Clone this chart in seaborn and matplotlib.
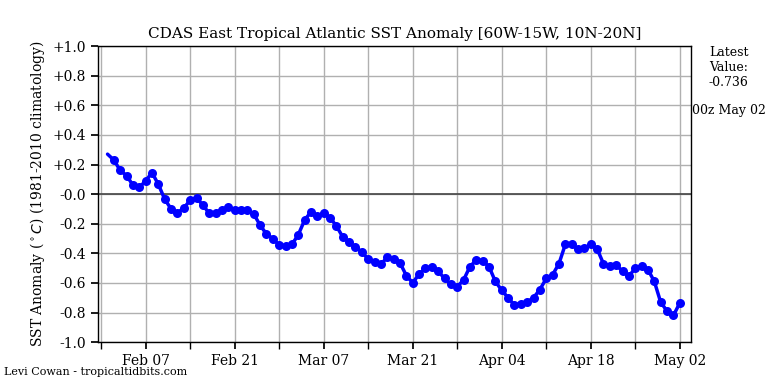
import pandas as pd
import matplotlib
matplotlib.use('Agg')
import matplotlib.pyplot as plt
import seaborn as sns

# Daily SST anomaly values, Feb 01 - May 02
start_date = '2023-02-01'
anomaly = [
    0.27, 0.23, 0.16, 0.125, 0.06, 0.045, 0.09, 0.145, 0.065, -0.035,
    -0.10, -0.125, -0.095, -0.04, -0.025, -0.075, -0.13, -0.125, -0.11, -0.09,
    -0.11, -0.105, -0.11, -0.135, -0.21, -0.27, -0.30, -0.345, -0.35, -0.34,
    -0.275, -0.175, -0.12, -0.15, -0.125, -0.16, -0.215, -0.29, -0.325, -0.36,
    -0.39, -0.44, -0.46, -0.475, -0.425, -0.44, -0.465, -0.55, -0.60, -0.54,
    -0.50, -0.495, -0.52, -0.57, -0.61, -0.625, -0.58, -0.49, -0.445, -0.45,
    -0.49, -0.59, -0.65, -0.70, -0.75, -0.74, -0.73, -0.70, -0.645, -0.57,
    -0.545, -0.47, -0.34, -0.34, -0.37, -0.365, -0.34, -0.37, -0.47, -0.485,
    -0.48, -0.52, -0.555, -0.50, -0.485, -0.51, -0.59, -0.73, -0.79, -0.82,
    -0.736,
]
y_ticks = [1.0, 0.8, 0.6, 0.4, 0.2, 0.0, -0.2, -0.4, -0.6, -0.8, -1.0]
y_labels = ['+1.0', '+0.8', '+0.6', '+0.4', '+0.2', '-0.0',
            '-0.2', '-0.4', '-0.6', '-0.8', '-1.0']
latest_value = -0.736

df = pd.DataFrame({'date': pd.date_range(start_date, periods=len(anomaly), freq='D'),
                   'anom': anomaly})

sns.set_theme(style='ticks')
plt.rcParams['font.family'] = ['DejaVu Serif']
plt.rcParams['text.color'] = 'black'
plt.rcParams['axes.labelcolor'] = 'black'
plt.rcParams['xtick.color'] = 'black'
plt.rcParams['ytick.color'] = 'black'

fig = plt.figure(figsize=(7.68, 3.84), dpi=100)
ax = fig.add_axes([0.1276, 0.109, 0.7724, 0.771])

# grid first so the data sits on top
major = pd.date_range('2023-02-07', '2023-05-02', freq='14D')
minor = pd.date_range('2023-01-31', '2023-05-02', freq='7D')
ax.set_xticks(major)
ax.set_xticks(minor, minor=True)
ax.set_xticklabels([d.strftime('%b %d') for d in major], fontsize=10)
ax.grid(True, which='both', axis='x', color='#b0b0b0', linewidth=1)
ax.grid(True, which='major', axis='y', color='#b0b0b0', linewidth=1)
ax.axhline(0, color='#444444', linewidth=1.2, zorder=2)

sns.lineplot(data=df, x='date', y='anom', ax=ax, color='blue', linewidth=2.5,
             marker='o', markersize=6.5, markeredgewidth=0,
             markevery=list(range(1, len(df))), zorder=3)

first = df['date'].iloc[0]
ax.set_xlim(first - pd.Timedelta(days=1.5), first + pd.Timedelta(days=91.8))
ax.set_ylim(-1.0, 1.0)
ax.set_yticks(y_ticks)
ax.set_yticklabels(y_labels, fontsize=10)
ax.tick_params(axis='both', which='both', direction='out', length=5, color='black')
for s in ax.spines.values():
    s.set_color('black')
    s.set_linewidth(1)

ax.set_xlabel('')
ax.set_ylabel('SST Anomaly ($^\\circ C$) (1981-2010 climatology)', fontsize=10)
ax.set_title('CDAS East Tropical Atlantic SST Anomaly [60W-15W, 10N-20N]', fontsize=11, pad=6)

fig.text(0.949, 0.88, 'Latest\nValue:\n%.3f' % latest_value, ha='center', va='top',
         fontsize=9, linespacing=1.2)
fig.text(0.949, 0.711, '00z May 02', ha='center', va='center', fontsize=9)
fig.text(0.005, 0.031, 'Levi Cowan - tropicaltidbits.com', ha='left', va='center', fontsize=8)

fig.savefig('out.png', dpi=100)
